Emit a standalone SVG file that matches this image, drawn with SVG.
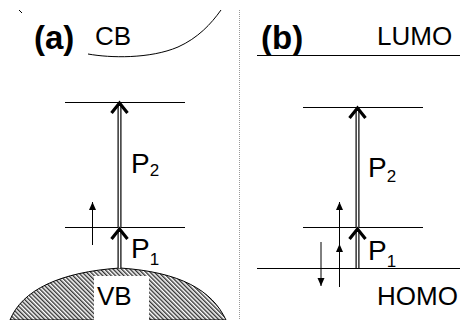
<svg xmlns="http://www.w3.org/2000/svg" width="460" height="320" viewBox="0 0 460 320">
<style>
text{font-family:"Liberation Sans",Arial,sans-serif;fill:#000}
.lbl{font-size:26px}
.big{font-size:33px;font-weight:bold}
.p{font-size:28px}
.sub{font-size:17px}
.lvl{stroke:#000;stroke-width:1;fill:none}
.outer{stroke:#000;stroke-width:4;fill:none}
.inner{stroke:#fff;stroke-width:1.6;fill:none}
.chev{stroke:#000;stroke-width:3.2;fill:none;stroke-linejoin:miter}
.thin{stroke:#000;stroke-width:1;fill:none}
</style>
<defs>
<pattern id="hatch" width="3" height="3" patternUnits="userSpaceOnUse" patternTransform="rotate(-45)">
<rect width="3" height="3" fill="#fff"/>
<line x1="0.7" y1="0" x2="0.7" y2="3" stroke="#333" stroke-width="1.4"/>
</pattern>
<marker id="ah" viewBox="0 0 8 8" refX="8" refY="4" markerWidth="8" markerHeight="8" markerUnits="userSpaceOnUse" orient="auto">
<path d="M0,0.5 L8,4 L0,7.5 Z" fill="#000"/>
</marker>
</defs>
<g id="divider"><line x1="239.5" y1="10" x2="239.5" y2="320" stroke="#999" stroke-width="1" stroke-dasharray="1,1"/></g>
<g id="panel-a">
<g id="label-a"><text class="big" x="34" y="49">(a)</text></g>
<g id="cb"><path d="M19,10 L22,13" class="lvl"/><path d="M88,54 C110,58 150,59 178,47 C198,38 211,24 221,10" class="lvl"/><text class="lbl" x="95" y="45">CB</text></g>
<g id="vb"><path d="M10,320 C22,290 60,272 120,268 C180,272 212,290 226,320 Z" fill="url(#hatch)" stroke="#000" stroke-width="1"/><rect x="94" y="276" width="55" height="44" fill="#fff"/><text class="lbl" x="97" y="305">VB</text></g>
<g id="levels-a"><line class="lvl" x1="65" y1="102.5" x2="185" y2="102.5"/><line class="lvl" x1="65" y1="227.5" x2="185" y2="227.5"/></g>
<g id="p2-a"><line class="outer" x1="119.5" y1="228" x2="119.5" y2="104"/><line class="inner" x1="119.5" y1="228" x2="119.5" y2="106"/><path class="chev" d="M111.5,113 L119.5,103 L127.5,113"/><text class="p" x="131" y="173">P<tspan class="sub" dy="3">2</tspan></text></g>
<g id="p1-a"><line class="outer" x1="119.5" y1="268" x2="119.5" y2="230"/><line class="inner" x1="119.5" y1="268" x2="119.5" y2="232"/><path class="chev" d="M111.5,239 L119.5,229 L127.5,239"/><text class="p" x="131" y="258">P<tspan class="sub" dy="7">1</tspan></text></g>
</g>
<g id="panel-b">
<g id="label-b"><text class="big" x="261" y="49">(b)</text></g>
<g id="lumo"><line class="lvl" x1="257" y1="55.5" x2="460" y2="55.5"/><text class="lbl" x="377" y="45">LUMO</text></g>
<g id="homo"><line class="lvl" x1="257" y1="268.5" x2="460" y2="268.5"/><text class="lbl" x="377" y="305">HOMO</text></g>
<g id="levels-b"><line class="lvl" x1="303" y1="107.5" x2="423" y2="107.5"/><line class="lvl" x1="303" y1="227.5" x2="423" y2="227.5"/></g>
<g id="p2-b"><line class="outer" x1="357.5" y1="228" x2="357.5" y2="109"/><line class="inner" x1="357.5" y1="228" x2="357.5" y2="111"/><path class="chev" d="M349.5,118 L357.5,108 L365.5,118"/><text class="p" x="368" y="177">P<tspan class="sub" dy="5">2</tspan></text></g>
<g id="p1-b"><line class="outer" x1="357.5" y1="268" x2="357.5" y2="230"/><line class="inner" x1="357.5" y1="268" x2="357.5" y2="232"/><path class="chev" d="M349.5,239 L357.5,229 L365.5,239"/><text class="p" x="368" y="260">P<tspan class="sub" dy="7">1</tspan></text></g>
</g>
<g id="connectors">
<line class="thin" x1="92.5" y1="245" x2="92.5" y2="202" marker-end="url(#ah)"/>
<line class="thin" x1="339.5" y1="287" x2="339.5" y2="244" marker-end="url(#ah)"/>
<line class="thin" x1="339.5" y1="245" x2="339.5" y2="202" marker-end="url(#ah)"/>
<line class="thin" x1="321" y1="242" x2="321" y2="286" marker-end="url(#ah)"/>
</g>
</svg>
